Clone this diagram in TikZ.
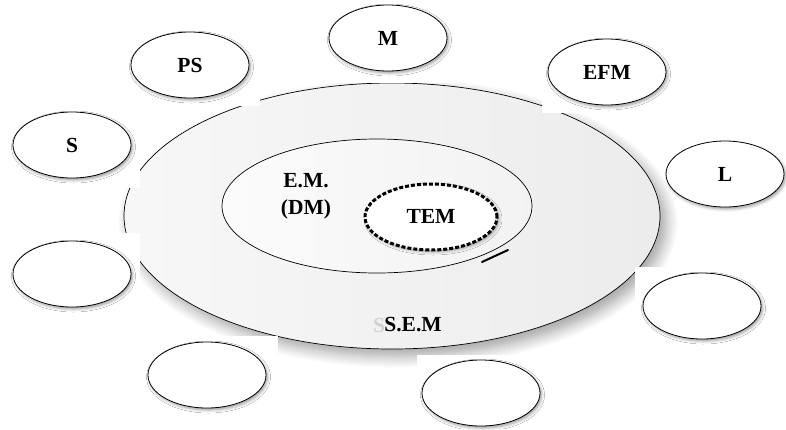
\documentclass[tikz,border=0pt]{standalone}
\usepackage{fontspec}
\setmainfont{Liberation Serif}
\usetikzlibrary{shapes.geometric,shadows.blur}
\begin{document}
\begin{tikzpicture}[x=1pt,y=-1pt,
  lbl/.style={font=\fontsize{21.5}{27}\selectfont\bfseries, align=center, inner sep=0pt},
  bubble/.style={ellipse, draw=black, line width=0.8pt, fill=white,
    minimum width=118pt, minimum height=66pt, inner sep=0pt,
    blur shadow={shadow xshift=1.5pt, shadow yshift=-2pt, shadow blur radius=3pt, shadow opacity=40},
    font=\fontsize{21.5}{27}\selectfont\bfseries},
  patch/.style={fill=white, draw=none}
]
\useasboundingbox (0,0) rectangle (786,429);
% outer ring (S.E.M)
\node[ellipse, draw=black, line width=0.7pt, minimum width=536pt, minimum height=266pt,
  left color=gray!6, right color=gray!15,
  blur shadow={shadow xshift=6pt, shadow yshift=-7pt, shadow blur radius=12pt, shadow opacity=38, shadow blur steps=12}]
  (sem) at (392,216) {};
% inner ellipse (E.M.)
\node[ellipse, draw=black, line width=0.7pt, minimum width=310pt, minimum height=134pt,
  left color=gray!3, right color=gray!10] (em) at (377,206) {};
% TEM
\node[ellipse, draw=black, line width=3pt, dash pattern=on 4pt off 2pt, fill=white,
  minimum width=132pt, minimum height=66pt,
  blur shadow={shadow xshift=2pt, shadow yshift=-2pt, shadow blur radius=3pt, shadow opacity=35}]
  (tem) at (431,217) {};
\draw[line width=2pt, line cap=round] (482,262) -- (508,250);
% white backgrounds of the small bubbles
\fill[patch] (5,105) rectangle (140,188);
\fill[patch] (122,24) rectangle (260,106);
\fill[patch] (322,0) rectangle (456,83);
\fill[patch] (542,30) rectangle (676,113);
\fill[patch] (5,233) rectangle (140,316);
\fill[patch] (143,336) rectangle (278,418);
\fill[patch] (635,267) rectangle (770,350);
\fill[patch] (417,355) rectangle (548,429);
% labels in the rings
\node[lbl] (emt) at (306,196) {E.M.\\(DM)};
\node[lbl] (temt) at (431,216) {TEM};
\node[lbl, text=gray!35] (ghost) at (379,325) {S};
\node[lbl] (semt) at (413,325) {S.E.M};
% bubbles
\node[bubble] (s)   at (72,145)  {S};
\node[bubble] (ps)  at (190,65)  {PS};
\node[bubble] (m)   at (388,38)  {M};
\node[bubble] (efm) at (607,72)  {EFM};
\node[bubble] (l)   at (725,174) {L};
\node[bubble] (b1)  at (72,274)  {};
\node[bubble] (b2)  at (207,375) {};
\node[bubble] (b3)  at (481,393) {};
\node[bubble] (b4)  at (702,306) {};
\end{tikzpicture}
\end{document}
